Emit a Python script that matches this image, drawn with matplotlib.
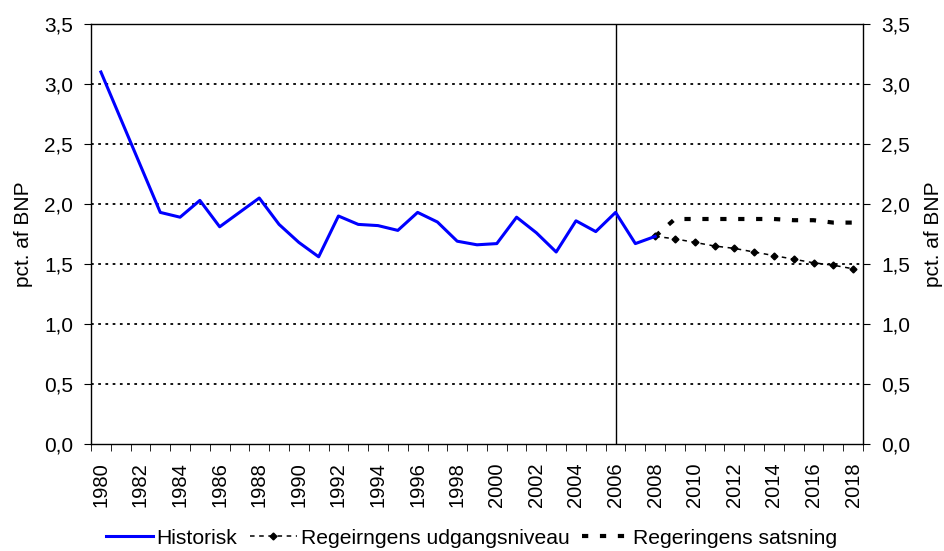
import matplotlib
matplotlib.use("Agg")
import matplotlib.pyplot as plt
import numpy as np
from matplotlib.ticker import FixedLocator, FuncFormatter

plt.rcParams['font.family'] = ['Liberation Sans', 'DejaVu Sans']

years = list(range(1980, 2019))
hist_years = list(range(1980, 2009))
historisk = [3.10, 2.71, 2.32, 1.93, 1.89, 2.03, 1.81, 1.93, 2.05, 1.83,
             1.68, 1.56, 1.90, 1.83, 1.82, 1.78, 1.93, 1.85, 1.69, 1.66,
             1.67, 1.89, 1.76, 1.60, 1.86, 1.77, 1.93, 1.67, 1.73]
proj_years = list(range(2008, 2019))
udgangsniveau = [1.73, 1.71, 1.68, 1.65, 1.63, 1.60, 1.57, 1.54, 1.51, 1.49, 1.46]
satsning = [1.73, 1.875, 1.875, 1.875, 1.875, 1.875, 1.875, 1.865, 1.865, 1.845, 1.845]
y_ticks = [0.0, 0.5, 1.0, 1.5, 2.0, 2.5, 3.0, 3.5]
ylabel = "pct. af BNP"
split_year = 2006
FS = 15

fig = plt.figure(figsize=(9.45, 5.51), dpi=100)
L, R, T, B = 91, 863, 24, 444
ax = fig.add_axes([L/945, (551-B)/551, (R-L)/945, (B-T)/551])

def xi(yrs):
    return [y - years[0] for y in yrs]

ax.plot(xi(hist_years), historisk, color='#0000FF', lw=2.2, label='Historisk', zorder=4)
ax.plot(xi(proj_years), udgangsniveau, color='black', lw=1.1, ls=(0, (3, 3)),
        marker='D', ms=3.5, label='Regeirngens udgangsniveau', zorder=3)
ax.plot(xi(proj_years), satsning, color='black', lw=3, ls=(0, (1.5, 2.8)),
        label='Regeringens satsning', zorder=3)

ax.axvline(split_year - years[0], color='black', lw=1)

ax.set_xlim(-0.5, len(years) - 0.5)
ax.set_ylim(0, 3.5)
ax.set_yticks(y_ticks)
for yv in y_ticks[1:]:
    ax.axhline(yv, color='black', lw=1.3, ls=(0, (1.5, 2.5)), zorder=1)

fmt = FuncFormatter(lambda v, p: f"{v:.1f}".replace('.', ','))
ax.yaxis.set_major_formatter(fmt)
ax.tick_params(axis='y', labelsize=FS, direction='out', length=5, pad=8,
               right=True, labelright=True)

ax.set_xticks([i for i, y in enumerate(years) if y % 2 == 0])
ax.set_xticklabels([str(y) for y in years if y % 2 == 0], rotation=90, fontsize=14.5)
ax.xaxis.set_minor_locator(FixedLocator(np.arange(-0.5, len(years), 1.0)))
ax.tick_params(axis='x', which='major', length=0, pad=13)
ax.tick_params(axis='x', which='minor', length=5, direction='out')

ax.set_ylabel(ylabel, fontsize=FS)
ax.yaxis.set_label_coords((33 - L) / (R - L), 0.5)
fig.text(934/945, (551 - (T + B) / 2) / 551, ylabel, rotation=90, fontsize=FS,
         ha='center', va='center')

for s in ax.spines.values():
    s.set_color('black')
    s.set_linewidth(1)

leg = fig.legend(loc='center', bbox_to_anchor=(0.499, 1 - 538/551), ncol=3, frameon=False,
                 fontsize=15.2, handlelength=2.2, columnspacing=0.6, handletextpad=0.2,
                 borderpad=0, borderaxespad=0)

fig.savefig('out.png', dpi=100)
